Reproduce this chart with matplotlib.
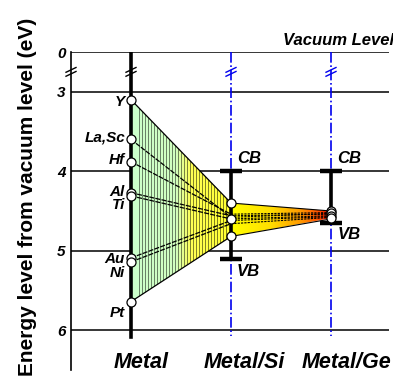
import numpy as np
import matplotlib.pyplot as plt
from matplotlib.colors import LinearSegmentedColormap
from matplotlib.patches import Polygon

plt.rcParams['font.family'] = ['Liberation Sans', 'DejaVu Sans']

# work functions (eV below vacuum) on the bare metal, and effective values on Si / Ge
metals = ['Y', 'La,Sc', 'Hf', 'Al', 'Ti', 'Au', 'Ni', 'Pt']
wf_metal = [3.10, 3.60, 3.88, 4.27, 4.31, 5.09, 5.14, 5.64]
wf_si = [4.40, 4.58, 4.54, 4.56, 4.60, 4.62, 4.66, 4.82]
wf_ge = [4.50, 4.53, 4.52, 4.54, 4.56, 4.57, 4.58, 4.60]
si_dots = [4.40, 4.60, 4.82]
ge_dots = [4.50, 4.53, 4.56, 4.59]
band_si = [4.0, 5.1]      # CB, VB
band_ge = [4.0, 4.65]
levels = [0, 3, 4, 5, 6]
columns = ['Metal', 'Metal/Si', 'Metal/Ge']

# the axis is broken between 0 and 3 eV; vacuum level sits at 2.5 on the plot scale
VAC = 2.5
BRK = 2.75
def ypos(e):
    return VAC if e == 0 else e

# label nudges so overlapping names stay readable
label_dy = [0.03, -0.03, -0.02, -0.01, 0.11, 0.02, 0.14, 0.14]

fig = plt.figure(figsize=(3.93, 3.91), dpi=100)
ax = fig.add_axes([71 / 393, 21 / 391, 318 / 393, 318 / 391])
ax.set_xlim(0.4, 3.58)
ax.set_ylim(6.5, 2.5)
for s in ['top', 'right', 'bottom']:
    ax.spines[s].set_visible(False)
ax.spines['left'].set_linewidth(1.2)
ax.set_xticks([])
ax.set_yticks([ypos(v) for v in levels])
ax.set_yticklabels([str(v) for v in levels], fontsize=11,
                   fontweight='bold', fontstyle='italic')
ax.tick_params(axis='y', length=0, pad=4)
ax.set_ylabel('Energy level from vacuum level (eV)', fontsize=15,
              fontweight='bold')
ax.yaxis.set_label_coords(-0.108, 0.545)

for v in levels:
    ax.axhline(ypos(v), color='black', lw=1.1, zorder=1)

# gradient fans
green_yellow = LinearSegmentedColormap.from_list(
    'gy', [(0, '#ccffcc'), (0.45, '#d2ffc0'), (0.6, '#ffff55'), (1, '#ffff30')])
yellow_red = LinearSegmentedColormap.from_list(
    'yr', [(0, '#ffff00'), (0.4, '#ffdd00'), (0.7, '#ff9900'), (0.9, '#ff4400'), (1, '#dd0000')])

fan1 = Polygon([(1, wf_metal[0]), (2, si_dots[0]), (2, si_dots[-1]), (1, wf_metal[-1])],
               closed=True, facecolor='none', edgecolor='none')
fan2 = Polygon([(2, si_dots[0]), (3, ge_dots[0]), (3, ge_dots[-1]), (2, si_dots[-1])],
               closed=True, facecolor='none', edgecolor='none')
ax.add_patch(fan1)
ax.add_patch(fan2)
grad = np.linspace(0, 1, 256)[None, :]
im1 = ax.imshow(grad, cmap=green_yellow, extent=(1, 2, 6, 3), aspect='auto', zorder=2)
im1.set_clip_path(fan1)
im2 = ax.imshow(grad, cmap=yellow_red, extent=(2, 3, 6, 3), aspect='auto', zorder=2)
im2.set_clip_path(fan2)
ax.set_xlim(0.4, 3.58)
ax.set_ylim(6.5, 2.5)

# vertical shading stripes on the first fan
stripes = ax.vlines(np.arange(1.08, 1.96, 0.03), 3, 6, colors='black',
                    lw=0.5, alpha=0.7, zorder=3)
stripes.set_clip_path(fan1)

# pinning lines
for i in range(len(metals)):
    edge = i in (0, len(metals) - 1)
    ls = '-' if edge else (0, (4, 1))
    ax.plot([1, 2], [wf_metal[i], wf_si[i]], color='black', lw=0.9, ls=ls, zorder=4)
    ax.plot([2, 3], [wf_si[i], wf_ge[i]], color='black', lw=0.8,
            ls='-' if edge else (0, (2, 1)), zorder=4)

# blue guides for the semiconductors
for x in (2, 3):
    ax.plot([x, x], [VAC, 6.07], color='#0000ee', lw=1.2, ls='-.', zorder=3)
    for dy in (-0.025, 0.025):
        ax.plot([x - 0.05, x + 0.05], [BRK + dy + 0.03, BRK + dy - 0.03],
                color='#0000ee', lw=1.0, zorder=5)

# band edges
for x, (cb, vb) in zip((2, 3), (band_si, band_ge)):
    ax.plot([x, x], [cb, vb], color='black', lw=2.6, zorder=5)
    ax.plot([x - 0.11, x + 0.11], [cb, cb], color='black', lw=3.2,
            solid_capstyle='butt', zorder=5)
    ax.plot([x - 0.11, x + 0.11], [vb, vb], color='black', lw=3.2,
            solid_capstyle='butt', zorder=5)
    ax.text(x + 0.06, cb - 0.06, 'CB', fontsize=12, fontweight='bold',
            fontstyle='italic', ha='left', va='bottom')
ax.text(2.06, band_si[1] + 0.07, 'VB', fontsize=12, fontweight='bold',
        fontstyle='italic', ha='left', va='top')
ax.text(3.07, band_ge[1] + 0.05, 'VB', fontsize=12, fontweight='bold',
        fontstyle='italic', ha='left', va='top')

# metal axis
ax.plot([1, 1], [VAC, 6.09], color='black', lw=2.6, zorder=5)
for x in (0.4, 1):
    for dy in (-0.025, 0.025):
        ax.plot([x - 0.05, x + 0.05], [BRK + dy + 0.03, BRK + dy - 0.03],
                color='black', lw=1.0, zorder=6, clip_on=False)

# markers
ax.plot([1] * len(wf_metal), wf_metal, 'o', ms=6.5, mfc='white', mec='black',
        mew=0.9, zorder=7)
ax.plot([2] * len(si_dots), si_dots, 'o', ms=6.5, mfc='white', mec='black',
        mew=0.9, zorder=7)
ax.plot([3] * len(ge_dots), ge_dots, 'o', ms=6.5, mfc='white', mec='black',
        mew=0.9, zorder=7)

for name, e, dy in zip(metals, wf_metal, label_dy):
    ax.text(0.94, e + dy, name, fontsize=11, fontweight='bold', fontstyle='italic',
            ha='right', va='center', zorder=8)

ax.text(3.63, VAC - 0.05, 'Vacuum Level', fontsize=12, fontweight='bold',
        fontstyle='italic', ha='right', va='bottom', clip_on=False)

for x, name in zip((1.10, 2.13, 3.15), columns):
    ax.text(x, 6.4, name, fontsize=15.5, fontweight='bold', fontstyle='italic',
            ha='center', va='center', clip_on=False)

fig.savefig('out.png', dpi=100)
